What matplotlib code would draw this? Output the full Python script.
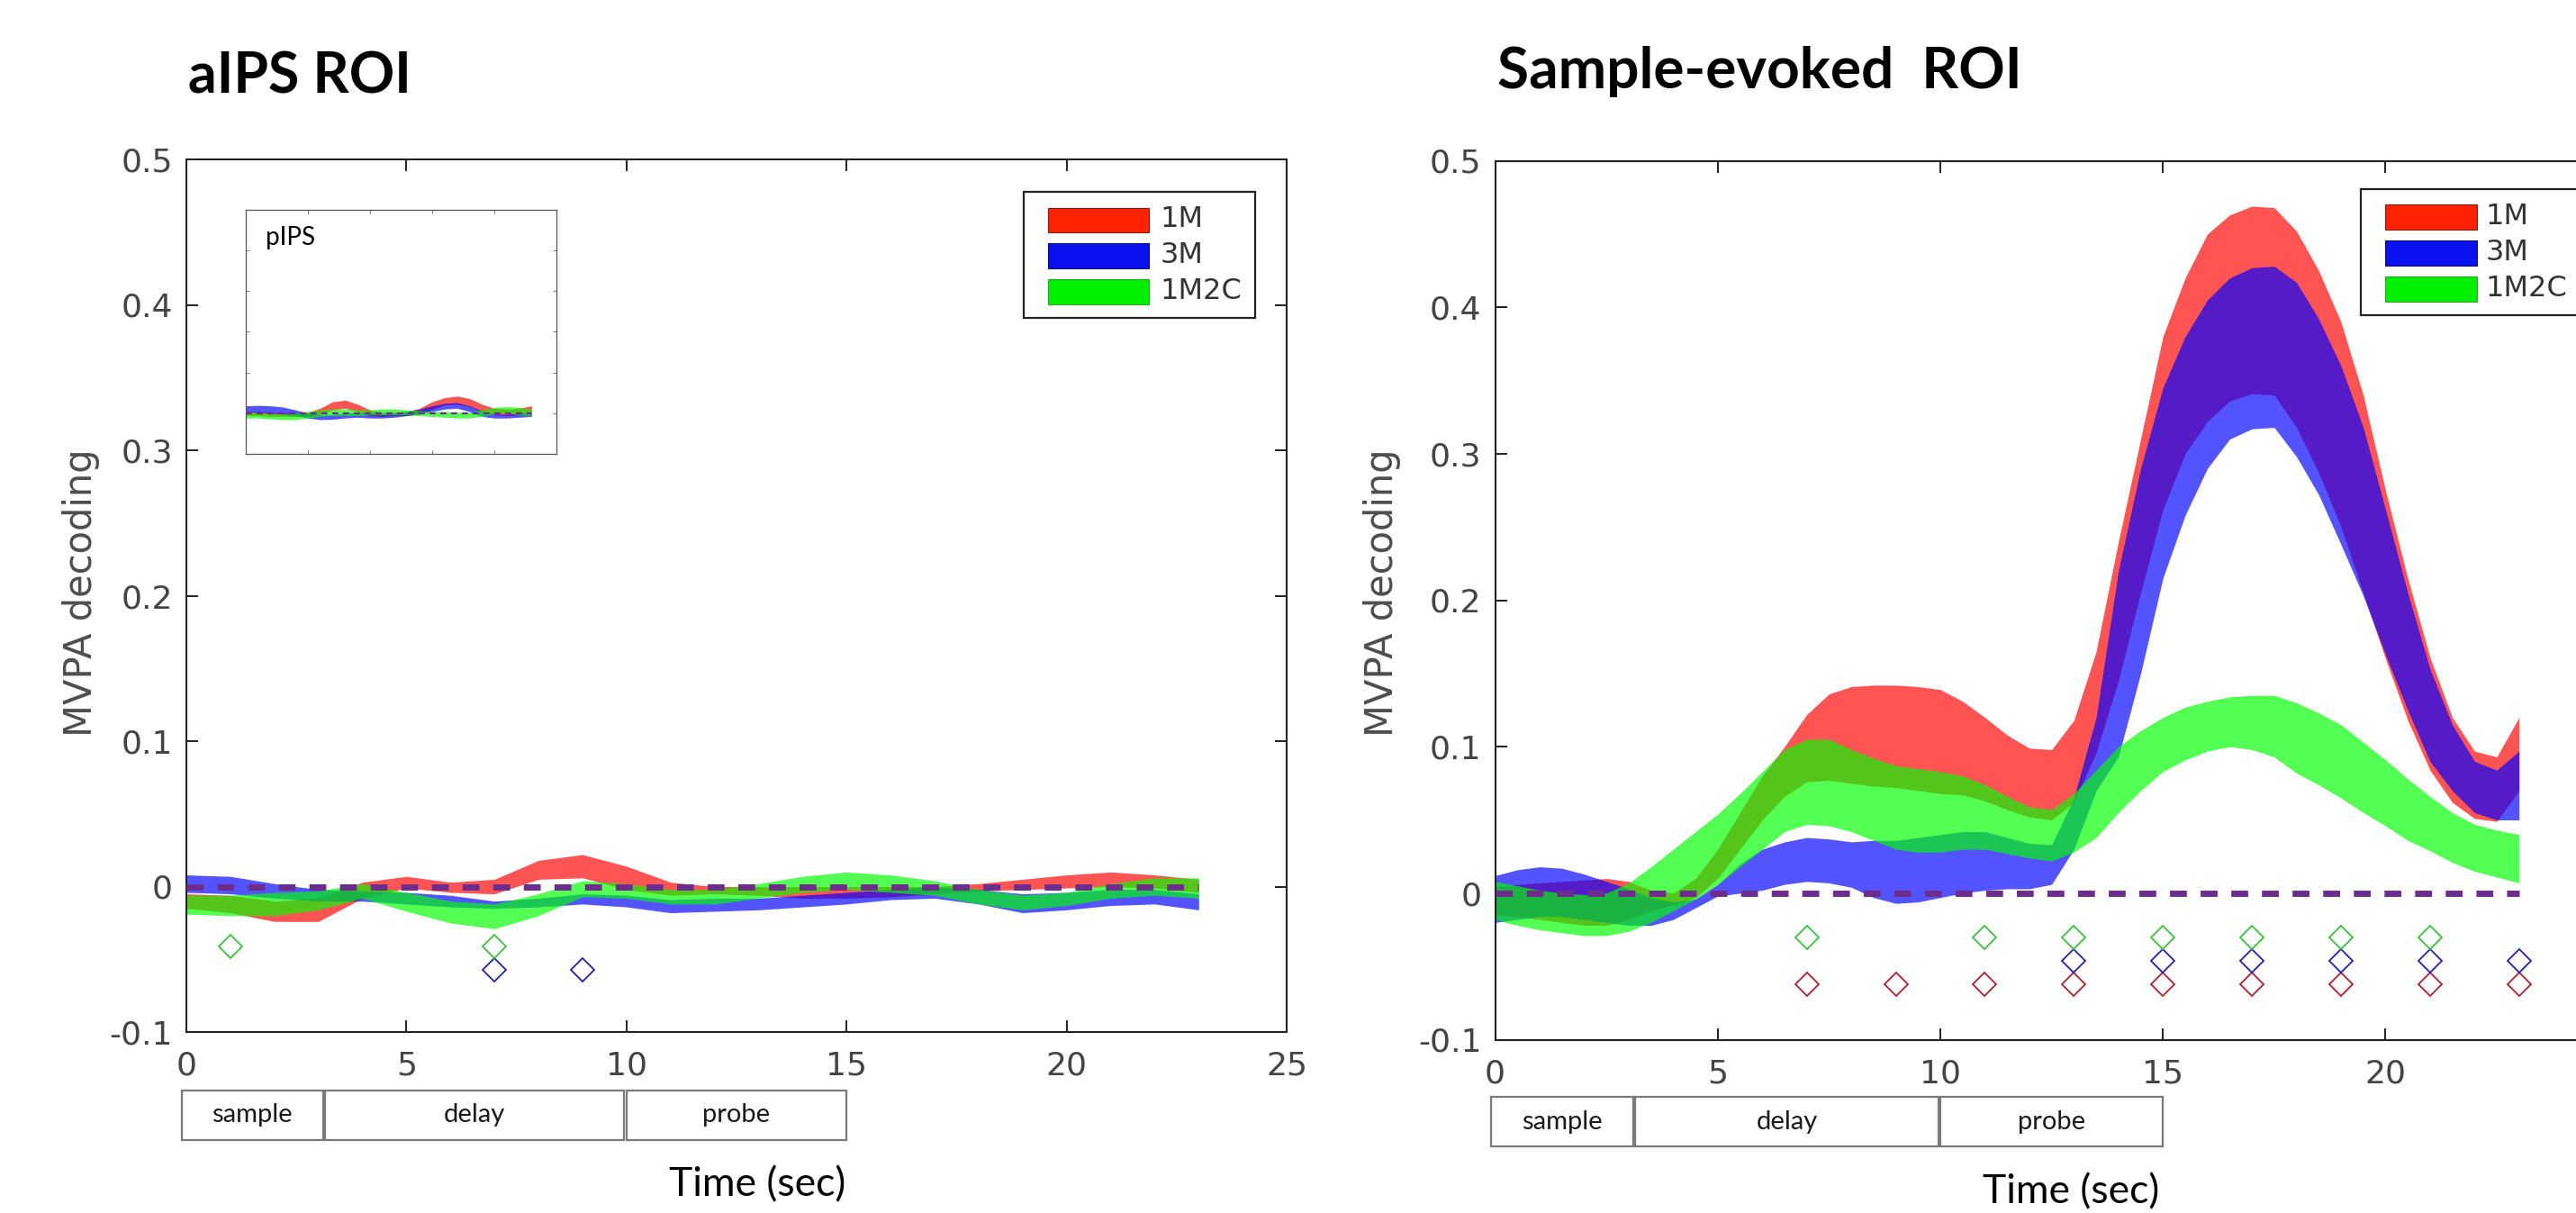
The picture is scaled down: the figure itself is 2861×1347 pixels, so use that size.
#!/usr/bin/env python3
"""MVPA decoding time courses (1M / 3M / 1M2C) for the aIPS and sample-evoked ROIs."""
import numpy as np
import matplotlib
matplotlib.use("Agg")
import matplotlib.pyplot as plt
import matplotlib.transforms as mtransforms
from matplotlib.patches import Patch, Rectangle
from matplotlib.legend_handler import HandlerPatch

# ---- data ---------------------------------------------------------------
CONDITIONS = ["1M", "3M", "1M2C"]

# sample-evoked ROI, 0.5 s grid
T_SE = np.arange(0, 23.5, 0.5)
SE_1M_HI = [0.004, 0.006, 0.007, 0.008, 0.009, 0.010, 0.008, 0.002, 0.000, 0.010,
            0.030, 0.055, 0.080, 0.100, 0.122, 0.136, 0.141, 0.142, 0.142, 0.141,
            0.139, 0.131, 0.120, 0.108, 0.099, 0.098, 0.118, 0.165, 0.240, 0.310,
            0.380, 0.420, 0.450, 0.463, 0.469, 0.468, 0.452, 0.425, 0.390, 0.340,
            0.275, 0.215, 0.161, 0.120, 0.097, 0.093, 0.120]
SE_1M_LO = [-0.015, -0.016, -0.018, -0.020, -0.022, -0.022, -0.018, -0.012, -0.008, -0.003,
            0.010, 0.030, 0.050, 0.066, 0.076, 0.077, 0.075, 0.073, 0.072, 0.070,
            0.068, 0.067, 0.063, 0.057, 0.052, 0.050, 0.062, 0.096, 0.145, 0.205,
            0.262, 0.300, 0.322, 0.336, 0.341, 0.340, 0.318, 0.287, 0.250, 0.205,
            0.160, 0.118, 0.084, 0.062, 0.051, 0.049, 0.070]
SE_3M_HI = [0.012, 0.016, 0.018, 0.017, 0.013, 0.008, 0.003, -0.003, -0.006, -0.004,
            0.006, 0.020, 0.030, 0.035, 0.038, 0.037, 0.035, 0.036, 0.036, 0.038,
            0.040, 0.042, 0.042, 0.038, 0.034, 0.033, 0.065, 0.120, 0.220, 0.290,
            0.345, 0.380, 0.405, 0.420, 0.427, 0.428, 0.417, 0.392, 0.360, 0.318,
            0.262, 0.205, 0.153, 0.115, 0.090, 0.084, 0.097]
SE_3M_LO = [-0.020, -0.018, -0.016, -0.016, -0.018, -0.020, -0.022, -0.022, -0.018, -0.010,
            -0.002, 0.000, 0.002, 0.006, 0.008, 0.007, 0.004, -0.003, -0.007, -0.006,
            -0.003, 0.000, 0.002, 0.003, 0.003, 0.006, 0.030, 0.070, 0.093, 0.150,
            0.215, 0.258, 0.290, 0.310, 0.317, 0.318, 0.298, 0.272, 0.238, 0.203,
            0.163, 0.125, 0.090, 0.070, 0.055, 0.050, 0.050]
SE_1M2C_HI = [0.008, 0.005, 0.002, 0.000, -0.001, 0.000, 0.007, 0.018, 0.030, 0.042,
              0.054, 0.068, 0.083, 0.098, 0.105, 0.105, 0.098, 0.092, 0.087, 0.085,
              0.083, 0.080, 0.074, 0.066, 0.059, 0.057, 0.068, 0.084, 0.100, 0.111,
              0.120, 0.127, 0.131, 0.134, 0.135, 0.135, 0.130, 0.123, 0.115, 0.103,
              0.091, 0.078, 0.066, 0.055, 0.047, 0.043, 0.040]
SE_1M2C_LO = [-0.018, -0.022, -0.025, -0.027, -0.029, -0.029, -0.026, -0.020, -0.012, -0.004,
              0.006, 0.018, 0.030, 0.042, 0.047, 0.046, 0.042, 0.036, 0.030, 0.028,
              0.028, 0.030, 0.030, 0.027, 0.024, 0.022, 0.028, 0.038, 0.055, 0.070,
              0.083, 0.091, 0.097, 0.100, 0.098, 0.093, 0.082, 0.074, 0.065, 0.055,
              0.046, 0.036, 0.029, 0.021, 0.015, 0.011, 0.007]

# aIPS ROI, 1 s grid
T_AIPS = np.arange(0, 24, 1.0)
AIPS_1M_HI = [-0.005, -0.006, -0.010, -0.008, 0.003, 0.007, 0.003, 0.005, 0.018, 0.022,
              0.014, 0.003, 0.000, 0.000, 0.000, 0.000, 0.000, 0.000, 0.002, 0.005,
              0.008, 0.010, 0.008, 0.005]
AIPS_1M_LO = [-0.015, -0.018, -0.024, -0.024, -0.008, -0.001, -0.004, -0.005, 0.005, 0.006,
              -0.002, -0.006, -0.005, -0.006, -0.008, -0.008, -0.007, -0.005, -0.003, -0.002,
              -0.001, 0.000, -0.001, -0.004]
AIPS_3M_HI = [0.008, 0.007, 0.002, -0.002, -0.003, -0.004, -0.006, -0.010, -0.008, -0.005,
              -0.006, -0.009, -0.008, -0.008, -0.006, -0.004, -0.002, 0.000, -0.002, -0.005,
              -0.004, -0.002, -0.002, -0.005]
AIPS_3M_LO = [-0.004, -0.005, -0.008, -0.010, -0.010, -0.012, -0.014, -0.015, -0.014, -0.012,
              -0.014, -0.018, -0.017, -0.016, -0.014, -0.012, -0.009, -0.008, -0.012, -0.018,
              -0.016, -0.013, -0.012, -0.016]
AIPS_1M2C_HI = [-0.006, -0.006, -0.004, -0.003, 0.002, -0.004, -0.010, -0.012, -0.005, 0.004,
                0.002, -0.002, -0.002, 0.002, 0.007, 0.010, 0.008, 0.004, -0.002, -0.006,
                -0.004, 0.002, 0.006, 0.006]
AIPS_1M2C_LO = [-0.019, -0.020, -0.020, -0.016, -0.008, -0.017, -0.025, -0.029, -0.020, -0.007,
                -0.008, -0.012, -0.012, -0.008, -0.004, -0.002, -0.004, -0.006, -0.012, -0.016,
                -0.013, -0.008, -0.006, -0.008]

# pIPS inset, 1 s grid
PIPS_1M_HI = [0.004, 0.004, 0.002, 0.000, 0.000, 0.002, 0.012, 0.028, 0.032, 0.022,
              0.008, 0.002, 0.002, 0.004, 0.012, 0.028, 0.038, 0.042, 0.036, 0.022,
              0.012, 0.010, 0.012, 0.018]
PIPS_1M_LO = [-0.006, -0.006, -0.008, -0.008, -0.008, -0.008, -0.004, 0.008, 0.012, 0.004,
              -0.006, -0.008, -0.006, -0.006, -0.002, 0.010, 0.020, 0.022, 0.016, 0.004,
              -0.004, -0.006, -0.004, -0.002]
PIPS_3M_HI = [0.018, 0.019, 0.018, 0.015, 0.008, 0.000, -0.004, -0.003, 0.000, 0.002,
              0.000, -0.002, 0.000, 0.005, 0.010, 0.018, 0.024, 0.026, 0.018, 0.006,
              -0.002, -0.003, 0.000, 0.004]
PIPS_3M_LO = [0.000, 0.002, 0.000, -0.002, -0.006, -0.012, -0.016, -0.015, -0.012, -0.010,
              -0.012, -0.012, -0.010, -0.006, -0.002, 0.004, 0.010, 0.012, 0.004, -0.008,
              -0.012, -0.012, -0.010, -0.008]
PIPS_1M2C_HI = [0.004, 0.002, 0.000, -0.002, 0.000, 0.004, 0.008, 0.010, 0.010, 0.008,
                0.008, 0.010, 0.010, 0.008, 0.006, 0.004, 0.004, 0.002, 0.002, 0.008,
                0.014, 0.016, 0.014, 0.010]
PIPS_1M2C_LO = [-0.012, -0.012, -0.014, -0.016, -0.016, -0.012, -0.008, -0.006, -0.006, -0.006,
                -0.004, -0.004, -0.004, -0.004, -0.006, -0.008, -0.010, -0.012, -0.012, -0.008,
                -0.002, 0.000, -0.004, -0.006]

# significant time points (diamonds) and the row they are drawn on
SE_SIG_T = {"1M2C": [7, 11, 13, 15, 17, 19, 21],
            "3M": [13, 15, 17, 19, 21, 23],
            "1M": [7, 9, 11, 13, 15, 17, 19, 21, 23]}
SE_SIG_Y = {"1M2C": -0.030, "3M": -0.046, "1M": -0.062}
AIPS_SIG_T = {"1M2C": [1, 7], "3M": [7, 9], "1M": []}
AIPS_SIG_Y = {"1M2C": -0.041, "3M": -0.057, "1M": -0.062}

# trial phases (sec)
PHASES = ["sample", "delay", "probe"]
PHASE_START = [-0.1, 3.15, 10.0]
PHASE_END = [3.1, 9.95, 15.0]

XTICKS = [0, 5, 10, 15, 20, 25]
XTICKLABELS = ["0", "5", "10", "15", "20", "25"]
# the right panel is cropped before x = 25, so its last label is not shown
XTICKLABELS_CROPPED = ["0", "5", "10", "15", "20", ""]
YTICKS = [-0.1, 0, 0.1, 0.2, 0.3, 0.4, 0.5]
YTICKLABELS = ["-0.1", "0", "0.1", "0.2", "0.3", "0.4", "0.5"]

# ---- style ---------------------------------------------------------------
FILL = {"1M": "#FF0000", "3M": "#0000FF", "1M2C": "#00FF00"}
SWATCH = {"1M": "#FF2200", "3M": "#0A12F0", "1M2C": "#00F000"}
SWATCH_EDGE = {"1M": "#8a1a10", "3M": "#101070", "1M2C": "#30a030"}
MARKER = {"1M": "#B02030", "3M": "#2222B0", "1M2C": "#3CC03C"}
CHANCE = "#6E2C8C"
ALPHA = 0.67
TICK_GREY = "#444444"
CALIBRI_LIKE = "Lato"

W, H = 2861, 1347


def legend_swatch(legend, orig_handle, xdescent, ydescent, width, height, fontsize):
    shift = 0.38 * fontsize
    return Rectangle((-xdescent + shift, -ydescent - 0.1 * fontsize),
                     width - shift, height)


def draw_bands(ax, t, bands):
    for name in CONDITIONS:
        lo, hi = bands[name]
        ax.fill_between(t, lo, hi, color=FILL[name], alpha=ALPHA,
                        linewidth=0, zorder=2)


def style_main(ax, xticklabels):
    ax.set_xlim(0, 25)
    ax.set_ylim(-0.1, 0.5)
    ax.set_xticks(XTICKS, xticklabels)
    ax.set_yticks(YTICKS, YTICKLABELS)
    ax.tick_params(direction="in", length=9.5, width=1.4, top=True, right=True,
                   labelsize=26, labelcolor=TICK_GREY, color="#222222")
    ax.tick_params(axis="x", pad=15)
    ax.tick_params(axis="y", pad=11)
    for sp in ax.spines.values():
        sp.set_linewidth(1.5)
        sp.set_color("#222222")


def draw_panel(ax, t, bands, sig_t, sig_y, legend_xy, box_top, xticklabels,
               handlelength, handletextpad):
    draw_bands(ax, t, bands)
    ax.plot([t[0], t[-1]], [0, 0], color=CHANCE, lw=5, dashes=(2.7, 2.2),
            dash_capstyle="butt", zorder=3)
    for name in CONDITIONS:
        xs = sig_t[name]
        ax.plot(xs, [sig_y[name]] * len(xs), linestyle="none", marker="D",
                markersize=13, markerfacecolor="none", markeredgecolor=MARKER[name],
                markeredgewidth=1.3, zorder=4, clip_on=False)
    style_main(ax, xticklabels)

    handles = [Patch(facecolor=SWATCH[n], edgecolor=SWATCH_EDGE[n], linewidth=0.8, label=n)
               for n in CONDITIONS]
    leg = ax.legend(handles=handles, loc="upper left", bbox_to_anchor=legend_xy,
                    borderaxespad=0, fontsize=23, handlelength=handlelength,
                    handleheight=0.95, handletextpad=handletextpad, borderpad=0.45,
                    labelspacing=0.25, fancybox=False, framealpha=1, edgecolor="#222222",
                    labelcolor="#333333",
                    handler_map={Patch: HandlerPatch(patch_func=legend_swatch)})
    leg.get_frame().set_linewidth(1.6)
    leg.set_zorder(6)

    trans = mtransforms.blended_transform_factory(ax.transData, ax.transAxes)
    box_h = 0.0565
    for label, x0, x1 in zip(PHASES, PHASE_START, PHASE_END):
        ax.add_patch(Rectangle((x0, box_top - box_h), x1 - x0, box_h, transform=trans,
                               facecolor="white", edgecolor="#7a7a7a", linewidth=1.6,
                               clip_on=False))
        ax.text((x0 + x1) / 2, box_top - box_h / 2, label, transform=trans,
                ha="center", va="center", fontsize=21, family=CALIBRI_LIKE,
                color="#1a1a1a", clip_on=False)


def main():
    fig = plt.figure(figsize=(W / 100, H / 100), dpi=100)
    fig.patch.set_facecolor("white")

    # ---- left: aIPS ROI ----
    ax_l = fig.add_axes([207 / W, 1 - 1146 / H, 1222 / W, 969 / H])
    aips = {"1M": (AIPS_1M_LO, AIPS_1M_HI), "3M": (AIPS_3M_LO, AIPS_3M_HI),
            "1M2C": (AIPS_1M2C_LO, AIPS_1M2C_HI)}
    draw_panel(ax_l, T_AIPS, aips, AIPS_SIG_T, AIPS_SIG_Y,
               ((1137 - 207) / 1222, 1 - (213 - 177) / 969), -(1211 - 1146) / 969,
               XTICKLABELS, 3.9, 0.4)

    # pIPS inset
    ax_in = fig.add_axes([272.8 / W, 1 - 504 / H, 345.2 / W, 271.3 / H])
    pips = {"1M": (PIPS_1M_LO, PIPS_1M_HI), "3M": (PIPS_3M_LO, PIPS_3M_HI),
            "1M2C": (PIPS_1M2C_LO, PIPS_1M2C_HI)}
    draw_bands(ax_in, T_AIPS, pips)
    ax_in.plot([T_AIPS[0], T_AIPS[-1]], [0, 0], color=CHANCE, lw=1.6,
               dashes=(3, 2.4), zorder=3)
    ax_in.set_xlim(0, 25)
    ax_in.set_ylim(-0.1, 0.5)
    ax_in.set_xticks([5, 10, 15, 20])
    ax_in.set_yticks([0, 0.1, 0.2, 0.3, 0.4])
    ax_in.tick_params(direction="in", length=3, width=0.7, color="#777777",
                      top=True, right=True, labelbottom=False, labelleft=False)
    for sp in ax_in.spines.values():
        sp.set_linewidth(0.9)
        sp.set_color("#555555")
    ax_in.text(0.064, 0.856, "pIPS", transform=ax_in.transAxes, fontsize=20,
               family=CALIBRI_LIKE, va="baseline", ha="left", color="black")

    # ---- right: sample-evoked ROI (runs off the right edge) ----
    ax_r = fig.add_axes([1660.6 / W, 1 - 1154.5 / H, 1236 / W, 976 / H])
    se = {"1M": (SE_1M_LO, SE_1M_HI), "3M": (SE_3M_LO, SE_3M_HI),
          "1M2C": (SE_1M2C_LO, SE_1M2C_HI)}
    draw_panel(ax_r, T_SE, se, SE_SIG_T, SE_SIG_Y,
               ((2622 - 1660.6) / 1236, 1 - (210 - 178.6) / 976), -(1218 - 1154.5) / 976,
               XTICKLABELS_CROPPED, 3.6, 0.28)

    # ---- labels ----
    for x in (90 / W, 1535 / W):
        fig.text(x, 0.511, "MVPA decoding", rotation=90, ha="center", va="center",
                 fontsize=30, color="#4d4d4d")
    fig.text(209 / W, 1 - 103 / H, "aIPS ROI", fontsize=45, fontweight="bold",
             family=CALIBRI_LIKE, ha="left", va="baseline")
    fig.text(1663 / W, 1 - 98 / H, "Sample-evoked  ROI", fontsize=46, fontweight="bold",
             family=CALIBRI_LIKE, ha="left", va="baseline")
    fig.text(841 / W, 1 - 1328 / H, "Time (sec)", fontsize=32, family=CALIBRI_LIKE,
             ha="center", va="baseline")
    fig.text(2300 / W, 1 - 1336 / H, "Time (sec)", fontsize=32, family=CALIBRI_LIKE,
             ha="center", va="baseline")

    fig.savefig("out.png", dpi=100, facecolor="white")
    plt.close(fig)


if __name__ == "__main__":
    main()
